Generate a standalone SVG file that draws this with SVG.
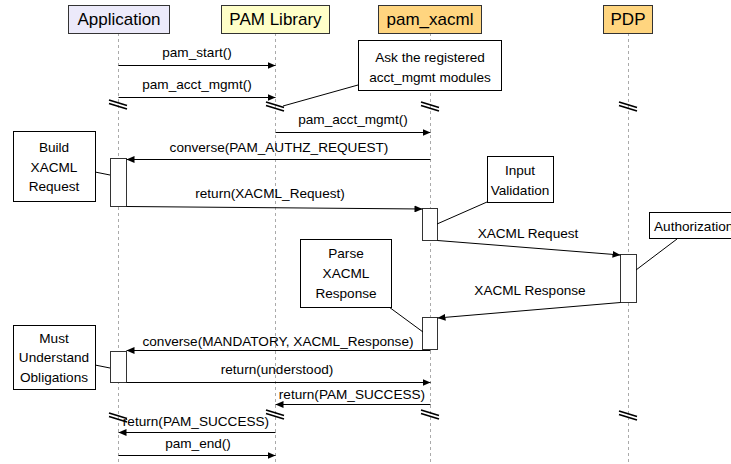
<svg xmlns="http://www.w3.org/2000/svg" width="731" height="464" viewBox="0 0 731 464">
<defs>
<marker id="arr" markerWidth="8" markerHeight="7" refX="8" refY="3.5" orient="auto" markerUnits="userSpaceOnUse">
<path d="M0,0 L8,3.5 L0,7 z" fill="#000"/>
</marker>
<style>
text{font-family:"Liberation Sans",Arial,sans-serif;fill:#000}
.hd{font-size:17px;text-anchor:middle}
.lb{font-size:13.6px;text-anchor:middle}
.hbox{stroke:#333;stroke-width:1}
.life{stroke:#aaa;stroke-width:1;stroke-dasharray:3,3;fill:none}
.brk{stroke:#000;stroke-width:1.8;fill:none}
.msg{stroke:#000;stroke-width:1;fill:none;marker-end:url(#arr)}
.note{fill:#fff;stroke:#000;stroke-width:1}
.nl{stroke:#000;stroke-width:1;fill:none}
.act{fill:#fff;stroke:#333;stroke-width:1}
</style>
</defs>
<rect width="731" height="464" fill="#fff"/>

<g id="lifelines">
<line class="life" x1="118.5" y1="33" x2="118.5" y2="464"/>
<line class="life" x1="275.5" y1="33" x2="275.5" y2="464"/>
<line class="life" x1="430.5" y1="33" x2="430.5" y2="464"/>
<line class="life" x1="628.5" y1="33" x2="628.5" y2="464"/>
</g>

<g id="application">
<rect class="hbox" x="68.5" y="5.5" width="101" height="28" fill="#ECEAFA"/>
<text class="hd" x="119" y="25">Application</text>
</g>
<g id="pam-library">
<rect class="hbox" x="221.5" y="5.5" width="108" height="28" fill="#FFFFC8"/>
<text class="hd" x="275.5" y="25">PAM Library</text>
</g>
<g id="pam-xacml">
<rect class="hbox" x="378.5" y="5.5" width="103" height="28" fill="#FFD57F"/>
<text class="hd" x="430" y="25">pam_xacml</text>
</g>
<g id="pdp">
<rect class="hbox" x="603.5" y="5.5" width="49" height="28" fill="#FFD57F"/>
<text class="hd" x="628" y="25">PDP</text>
</g>

<g id="breaks">
<path class="brk" d="M109,100 L127,105.5 M109,103.5 L127,109"/>
<path class="brk" d="M266,102 L284,107.5 M266,105.5 L284,111"/>
<path class="brk" d="M421,102 L439,107.5 M421,105.5 L439,111"/>
<path class="brk" d="M619,102 L637,107.5 M619,105.5 L637,111"/>
<path class="brk" d="M109,413 L127,418.5 M109,416.5 L127,422"/>
<path class="brk" d="M266,410 L284,415.5 M266,413.5 L284,419"/>
<path class="brk" d="M421,410 L439,415.5 M421,413.5 L439,419"/>
<path class="brk" d="M619,411 L637,416.5 M619,414.5 L637,420"/>
</g>

<g id="activations">
<rect class="act" x="110.5" y="158.5" width="16" height="48"/>
<rect class="act" x="422.5" y="208.5" width="15" height="32"/>
<rect class="act" x="620.5" y="254.5" width="16" height="48"/>
<rect class="act" x="422.5" y="317.5" width="15" height="32"/>
<rect class="act" x="110.5" y="351.5" width="16" height="31"/>
</g>

<g id="connectors">
<line class="msg" x1="118.5" y1="65.5" x2="275.5" y2="65.5"/>
<text class="lb" x="197" y="57">pam_start()</text>
<line class="msg" x1="118.5" y1="97.5" x2="275.5" y2="97.5"/>
<text class="lb" x="197" y="89">pam_acct_mgmt()</text>
<line class="msg" x1="275.5" y1="132.5" x2="430.5" y2="132.5"/>
<text class="lb" x="353" y="124">pam_acct_mgmt()</text>
<line class="msg" x1="430.5" y1="159.5" x2="126.5" y2="159.5"/>
<text class="lb" x="279" y="152">converse(PAM_AUTHZ_REQUEST)</text>
<line class="msg" x1="126.5" y1="206.5" x2="422.5" y2="209"/>
<text class="lb" x="270" y="198">return(XACML_Request)</text>
<line class="msg" x1="437.5" y1="240.5" x2="620.5" y2="255"/>
<text class="lb" x="528" y="238">XACML Request</text>
<line class="msg" x1="620.5" y1="302.5" x2="437.5" y2="318"/>
<text class="lb" x="530" y="295">XACML Response</text>
<line class="msg" x1="430.5" y1="350.5" x2="126.5" y2="350.5"/>
<text class="lb" x="278" y="346">converse(MANDATORY, XACML_Response)</text>
<line class="msg" x1="126.5" y1="382.5" x2="430.5" y2="382.5"/>
<text class="lb" x="277" y="374">return(understood)</text>
<line class="msg" x1="430.5" y1="404.5" x2="275.5" y2="404.5"/>
<text class="lb" x="352" y="399">return(PAM_SUCCESS)</text>
<line class="msg" x1="275.5" y1="432.5" x2="118.5" y2="432.5"/>
<text class="lb" x="196" y="426">return(PAM_SUCCESS)</text>
<line class="msg" x1="118.5" y1="455.5" x2="275.5" y2="455.5"/>
<text class="lb" x="198" y="448">pam_end()</text>

<line class="nl" x1="358" y1="85" x2="283" y2="106"/>
<line class="nl" x1="95" y1="172" x2="110" y2="175"/>
<line class="nl" x1="437" y1="224" x2="487" y2="202"/>
<line class="nl" x1="636" y1="270" x2="677" y2="239"/>
<line class="nl" x1="389" y1="307" x2="423" y2="332"/>
<line class="nl" x1="95" y1="365" x2="110" y2="368"/>
</g>

<g id="note-ask">
<rect class="note" x="358.5" y="40.5" width="143" height="50"/>
<text class="lb" x="430" y="62">Ask the registered</text>
<text class="lb" x="430" y="82">acct_mgmt modules</text>
</g>
<g id="note-build">
<rect class="note" x="13.5" y="131.5" width="82" height="70"/>
<text class="lb" x="54" y="152">Build</text>
<text class="lb" x="54" y="172">XACML</text>
<text class="lb" x="54" y="191">Request</text>
</g>
<g id="note-input">
<rect class="note" x="487.5" y="156.5" width="66" height="46"/>
<text class="lb" x="520" y="175">Input</text>
<text class="lb" x="520" y="195">Validation</text>
</g>
<g id="note-authz">
<rect class="note" x="649.5" y="212.5" width="90" height="26"/>
<text class="lb" x="654" y="231" style="text-anchor:start">Authorization</text>
</g>
<g id="note-parse">
<rect class="note" x="300.5" y="239.5" width="91" height="68"/>
<text class="lb" x="346" y="258">Parse</text>
<text class="lb" x="346" y="278">XACML</text>
<text class="lb" x="346" y="298">Response</text>
</g>
<g id="note-must">
<rect class="note" x="13.5" y="325.5" width="82" height="64"/>
<text class="lb" x="54" y="343">Must</text>
<text class="lb" x="54" y="362">Understand</text>
<text class="lb" x="54" y="382">Obligations</text>
</g>
</svg>
